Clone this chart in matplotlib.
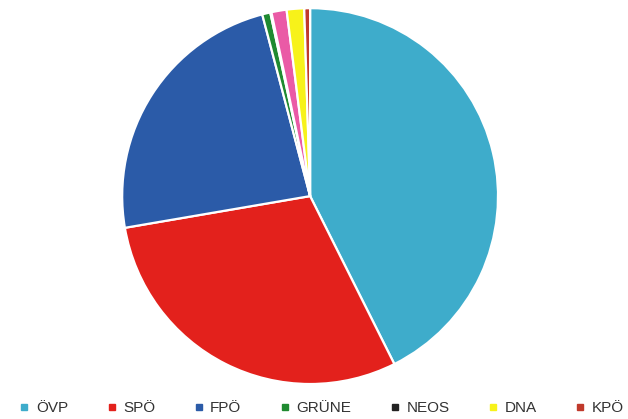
import matplotlib
matplotlib.use("Agg")
import matplotlib.pyplot as plt
from matplotlib.lines import Line2D

parteien = ["ÖVP", "SPÖ", "FPÖ", "GRÜNE", "NEOS", "Sonstige", "DNA", "KPÖ"]
anteile = [42.6, 29.7, 23.6, 0.7, 0.1, 1.3, 1.5, 0.5]
farben = ["#3eaccb", "#e3211c", "#2b5ba8", "#1f8a30", "#222222", "#ea5aa6", "#f7f21a", "#c0392b"]
legende = ["ÖVP", "SPÖ", "FPÖ", "GRÜNE", "NEOS", "DNA", "KPÖ"]

fig = plt.figure(figsize=(6.28, 4.19), dpi=100)
ax = fig.add_axes([0.1943, 0.0835, 0.599, 0.897])
ax.pie(anteile, colors=farben, startangle=90, counterclock=False,
       wedgeprops=dict(edgecolor="white", linewidth=1.6))
ax.set_xlim(-1, 1)
ax.set_ylim(-1, 1)
ax.set_aspect("equal")
ax.axis("off")

handles = []
for name in legende:
    c = farben[parteien.index(name)]
    handles.append(Line2D([], [], marker="s", linestyle="none", markersize=4.5,
                          markerfacecolor=c, markeredgecolor=c, label=name))
fig.legend(handles=handles, loc="center", bbox_to_anchor=(0.51, 0.026), ncol=7,
           frameon=False, prop=dict(family="Liberation Sans", size=11),
           handletextpad=0.25, handlelength=1.0, columnspacing=2.35,
           labelcolor="#333333")

fig.savefig("out.png", dpi=100)
